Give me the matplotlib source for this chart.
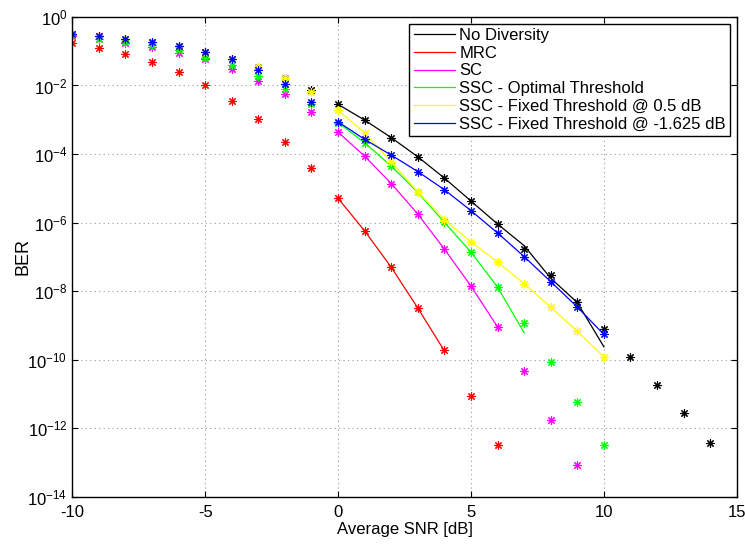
import numpy as np
import matplotlib
matplotlib.use('AGG')
import matplotlib.pyplot as plt

# SNR axis values [dB]
snr_sim = list(range(-10, 15))      # -10 .. 14

# simulated BER points (log10 values)
nodiv_sim = [-0.50, -0.57, -0.64, -0.72, -0.86, -1.03, -1.22, -1.46, -1.78, -2.14,
             -2.55, -3.01, -3.52, -4.08, -4.70, -5.37, -6.04, -6.77, -7.54, -8.30,
             -9.09, -9.91, -10.74, -11.56, -12.41]
mrc_sim = [-0.75, -0.90, -1.08, -1.31, -1.62, -2.00, -2.45, -2.99, -3.65, -4.42,
           -5.29, -6.24, -7.30, -8.49, -9.72, -11.06, -12.47]
sc_sim = [-0.55, -0.65, -0.76, -0.87, -1.04, -1.24, -1.52, -1.86, -2.26, -2.77,
          -3.36, -4.06, -4.86, -5.75, -6.77, -7.85, -9.04, -10.32, -11.76, -13.08]
ssc_opt_sim = [-0.54, -0.63, -0.73, -0.83, -0.96, -1.20, -1.41, -1.71, -2.10, -2.55,
               -3.08, -3.67, -4.35, -5.12, -5.99, -6.86, -7.88, -8.92, -10.06, -11.24, -12.49]
ssc_05_sim = [-0.50, -0.57, -0.64, -0.72, -0.86, -1.03, -1.22, -1.46, -1.78, -2.18,
              -2.72, -3.38, -4.23, -5.10, -5.92, -6.56, -7.15, -7.78, -8.46, -9.17, -9.91]
ssc_m1625_sim = [-0.50, -0.57, -0.64, -0.72, -0.86, -1.03, -1.24, -1.55, -1.95, -2.49,
                 -3.06, -3.57, -4.03, -4.51, -5.04, -5.65, -6.30, -6.99, -7.72, -8.46, -9.26]

# theoretical BER curves (log10 values), starting at 0 dB
nodiv_th = [-2.55, -3.01, -3.52, -4.08, -4.70, -5.37, -6.04, -6.67, -7.62, -8.33, -9.62]
mrc_th = [-5.29, -6.24, -7.30, -8.49, -9.74]
sc_th = [-3.36, -4.06, -4.86, -5.75, -6.77, -7.85, -9.04]
ssc_opt_th = [-3.08, -3.67, -4.35, -5.12, -5.99, -6.86, -7.88, -9.21]
ssc_05_th = [-2.72, -3.38, -4.23, -5.10, -5.92, -6.56, -7.15, -7.78, -8.46, -9.17, -9.91]
ssc_m1625_th = [-3.06, -3.57, -4.03, -4.51, -5.04, -5.65, -6.30, -6.99, -7.72, -8.46, -9.26]

labels = ['No Diversity', 'MRC', 'SC', 'SSC - Optimal Threshold',
          'SSC - Fixed Threshold @ 0.5 dB', 'SSC - Fixed Threshold @ -1.625 dB']
colors = ['k', '#ff0000', '#ff00ff', '#00ff00', '#ffff00', '#0000ff']
sims = [nodiv_sim, mrc_sim, sc_sim, ssc_opt_sim, ssc_05_sim, ssc_m1625_sim]
theos = [nodiv_th, mrc_th, sc_th, ssc_opt_th, ssc_05_th, ssc_m1625_th]

plt.rcParams['font.family'] = ['Liberation Sans', 'DejaVu Sans']
plt.rcParams['mathtext.fontset'] = 'custom'
plt.rcParams['mathtext.rm'] = 'Liberation Sans'
plt.rcParams['axes.unicode_minus'] = False     # MATLAB uses a plain hyphen

fig = plt.figure(figsize=(7.45, 5.45), dpi=100)
ax = fig.add_axes([0.097, 0.088, 0.892, 0.881])

# MATLAB style asterisk marker (8 spokes)
star = (8, 2, 0)

lines = []
for lab, col, sim, th in zip(labels, colors, sims, theos):
    x_th = snr_sim[10:10 + len(th)]
    ln, = ax.semilogy(x_th, 10.0 ** np.array(th), '-', color=col, lw=0.9, label=lab)
    lines.append(ln)
    ax.semilogy(snr_sim[:len(sim)], 10.0 ** np.array(sim), linestyle='none',
                marker=star, color=col, ms=6, mew=0.8)

ax.set_xlim(-10, 15)
ax.set_ylim(1e-14, 1e0)
ax.set_xticks([-10, -5, 0, 5, 10, 15])
ax.set_yticks([10.0 ** k for k in range(-14, 1, 2)])
ax.yaxis.set_minor_locator(matplotlib.ticker.NullLocator())
ax.tick_params(direction='in', top=True, right=True, labelsize=12, length=4, width=0.8)
ax.tick_params(axis='x', pad=6)
ax.grid(True, linestyle=(0, (1, 3)), color='#999999', lw=0.8)
for sp in ax.spines.values():
    sp.set_linewidth(1.0)

ax.set_xlabel('Average SNR [dB]', fontsize=12, labelpad=1)
ax.set_ylabel('BER', fontsize=13, labelpad=-3)

leg = ax.legend(handles=lines, loc='upper right', fontsize=12, fancybox=False,
                edgecolor='k', framealpha=1, borderaxespad=0.4, labelspacing=0.17,
                handlelength=2.5, handletextpad=0.25, borderpad=0.25)
leg.get_frame().set_linewidth(1.0)

fig.savefig('out.png', dpi=100)
